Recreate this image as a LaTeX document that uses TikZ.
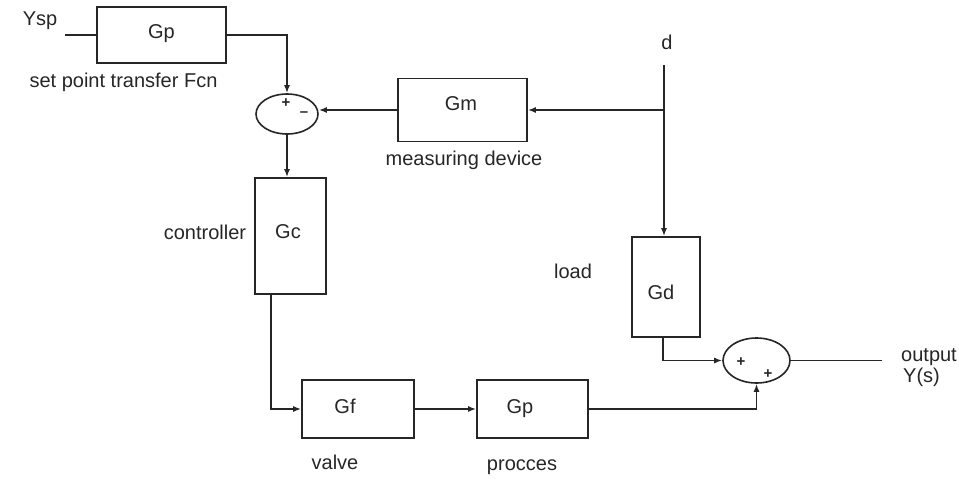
\documentclass[tikz,border=0pt]{standalone}
\usepackage{fontspec}
\setmainfont{Liberation Sans}
\usetikzlibrary{arrows.meta,shapes.geometric}
\begin{document}
\begin{tikzpicture}[x=1pt,y=-1pt,
  blk/.style={draw=black!85,line width=1.6pt,rectangle,inner sep=0pt},
  sumj/.style={draw=black!85,line width=1.6pt,ellipse,inner sep=0pt},
  lbl/.style={font=\fontsize{20}{22}\selectfont,text=black!85,inner sep=0pt},
  sgn/.style={font=\fontsize{15}{16}\selectfont\bfseries,text=black!85,inner sep=0pt},
  wire/.style={draw=black!85,line width=1.6pt},
  arr/.style={wire,-{Latex[length=8pt,width=6pt]}}]
\useasboundingbox (0,0) rectangle (959,480);
% blocks
\node[blk,minimum width=129pt,minimum height=56pt] (gp1) at (161.5,35) {};
\node[lbl] at (161.5,34) {Gp};
\node[lbl] (ysp) at (40,21) {Ysp};
\coordinate (yin) at (65,35);
\node[lbl] (spl) at (123.5,82) {set point transfer Fcn};
\node[sumj,minimum width=62pt,minimum height=40pt] (s1) at (287,114) {};
\node[sgn] (s1p) at (286,103) {+};
\node[sgn] (s1m) at (304,114) {\textendash};
\node[blk,minimum width=129pt,minimum height=63pt] (gm) at (462.5,110) {};
\node[lbl] at (461,104) {Gm};
\node[lbl] (mdl) at (464,160) {measuring device};
\node[lbl] (dl) at (667,42) {d};
\coordinate (dtop) at (664,65);
\node[blk,minimum width=71pt,minimum height=116pt] (gc) at (290.5,236) {};
\node[lbl] at (288,232) {Gc};
\node[lbl] (ctl) at (205,232) {controller};
\node[blk,minimum width=112pt,minimum height=58pt] (gf) at (358,409) {};
\node[lbl] at (345,406) {Gf};
\node[lbl] (vl) at (335,462) {valve};
\node[blk,minimum width=111pt,minimum height=58pt] (gp2) at (532.5,409) {};
\node[lbl] at (520,409) {Gp};
\node[lbl] (pl) at (522,467) {procces};
\node[blk,minimum width=68pt,minimum height=100pt] (gd) at (666,287) {};
\node[lbl] at (661,292) {Gd};
\node[lbl] (ll) at (573,271) {load};
\node[sumj,minimum width=67pt,minimum height=45pt] (s2) at (756.5,360.5) {};
\node[sgn] (s2a) at (741,362) {+};
\node[sgn] (s2b) at (768,374) {+};
\coordinate (yout) at (882,360.5);
\node[lbl,anchor=west] (ol) at (901,357) {output};
\node[lbl,anchor=west] (yl) at (903,377) {Y(s)};
% connectors
\draw[wire] (yin) -- (gp1.west);
\draw[arr] (gp1.east) -| (s1.north);
\draw[arr] (s1.south) -- (s1.south |- gc.north);
\draw[arr] ([xshift=-19.5pt]gc.south) |- (gf.west);
\draw[arr] (gf.east) -- (gp2.west);
\draw[arr] (gp2.east) -| (s2.south);
\draw[arr] ([xshift=-3pt]gd.south) |- (s2.west);
\draw[wire] (s2.east) -- (yout);
\draw[arr] (dtop) -- (dtop |- gd.north);
\draw[arr] (dtop |- gm.east) -- (gm.east);
\draw[arr] (gm.west) -- (gm.west -| s1.east);
\end{tikzpicture}
\end{document}
